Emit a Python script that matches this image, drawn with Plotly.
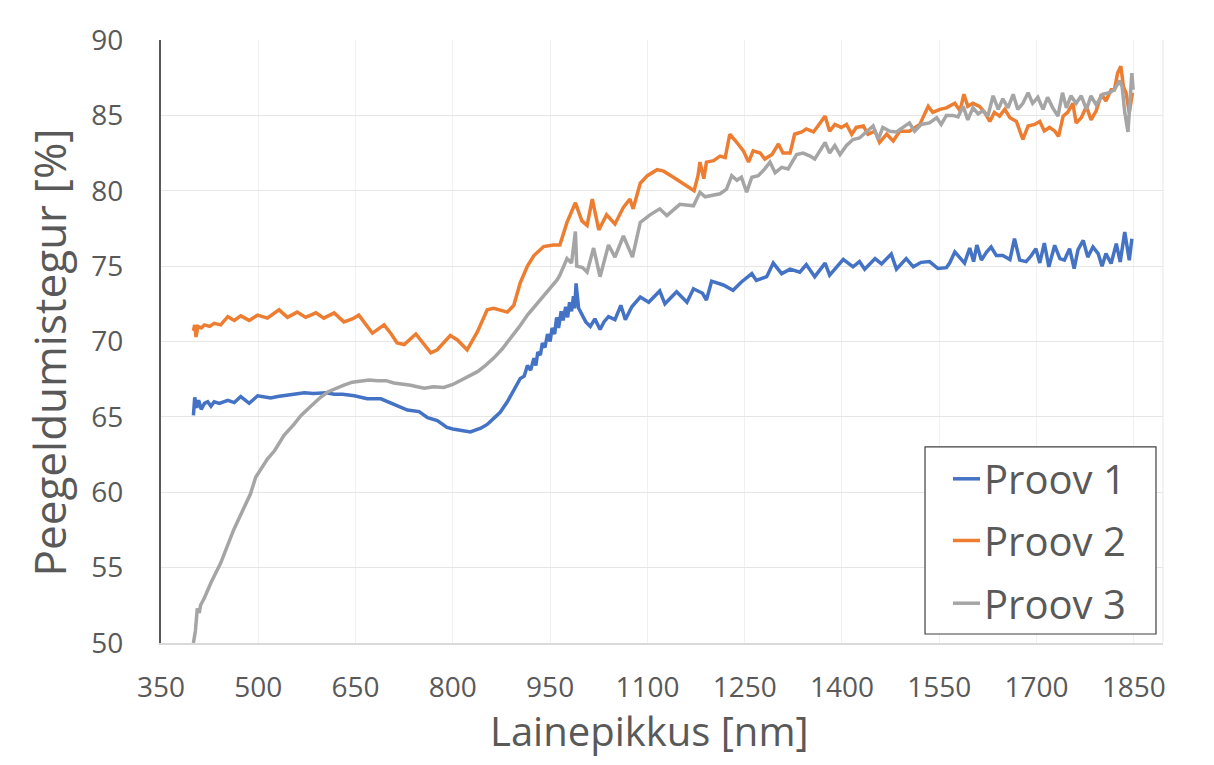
import plotly.graph_objects as go

# ---- Data ----
p1_x = [400, 402, 405, 408, 412, 417, 422, 427, 432, 440, 453, 463, 473, 480, 486, 499, 510, 519, 530, 545,
        560, 571, 585, 596, 605, 617, 630, 648, 668, 689, 700, 709, 720, 730, 748, 755, 761, 776, 791, 800,
        812, 827, 843, 853, 863, 873, 884, 894, 904, 910, 915, 920, 925, 928, 931, 935, 938, 942, 946, 950,
        953, 957, 960, 963, 967, 970, 974, 977, 980, 983, 986, 988,
        990, 994, 999, 1005, 1012, 1019, 1027, 1033, 1040, 1050, 1059, 1066, 1076, 1089, 1102, 1119, 1127, 1145, 1161,
        1171, 1185, 1191, 1199, 1217, 1232, 1245, 1261, 1268, 1284, 1294, 1307, 1320, 1335, 1345, 1358, 1374, 1381, 1402, 1417,
        1427, 1435, 1451, 1461, 1476, 1484, 1499, 1510, 1522, 1535, 1543, 1548, 1561, 1566, 1574, 1582, 1589, 1597, 1603, 1608,
        1615, 1623, 1630, 1638, 1648, 1659, 1666, 1674, 1684, 1692, 1699, 1705, 1712, 1719, 1728, 1736, 1743, 1751, 1758, 1764,
        1772, 1779, 1787, 1795, 1801, 1807, 1815, 1823, 1829, 1836, 1843, 1847]
p1_y = [65.1, 66.3, 65.6, 66.1, 65.5, 65.9, 66.0, 65.7, 66.0, 65.9, 66.1, 65.95, 66.35, 66.1, 65.9, 66.4, 66.3, 66.25, 66.35, 66.45,
        66.5, 66.6, 66.55, 66.55, 66.6, 66.5, 66.5, 66.4, 66.2, 66.2, 66.0, 65.8, 65.6, 65.45, 65.35, 65.1, 64.95, 64.75, 64.3, 64.2,
        64.1, 64.0, 64.25, 64.5, 64.9, 65.3, 66.0, 66.8, 67.55, 67.7, 68.4, 68.1, 68.9, 68.4, 69.3, 69.1, 69.9, 69.6, 70.5, 70.0,
        70.9, 70.5, 71.6, 70.9, 72.0, 71.4, 72.3, 71.6, 72.6, 72.0, 73.0, 72.2,
        73.85, 72.2, 71.75, 71.3, 71.0, 71.5, 70.8, 71.3, 71.65, 71.45, 72.4, 71.45, 72.3, 72.95, 72.6, 73.35, 72.5, 73.3, 72.6,
        73.5, 73.2, 72.75, 74.0, 73.75, 73.4, 73.95, 74.5, 74.05, 74.3, 75.2, 74.5, 74.8, 74.6, 75.1, 74.3, 75.2, 74.4, 75.45, 74.95,
        75.3, 74.8, 75.5, 75.15, 75.8, 74.8, 75.5, 74.95, 75.25, 75.3, 75.06, 74.84, 74.9, 75.2, 75.94, 75.5, 75.2, 76.2, 75.3, 76.4,
        75.4, 75.94, 76.27, 75.7, 75.7, 75.43, 76.82, 75.4, 75.3, 75.7, 76.16, 75.21, 76.53, 74.95, 76.38, 75.5, 75.4, 76.16, 74.84, 76.1,
        76.71, 75.6, 76.27, 75.83, 74.99, 75.83, 75.17, 76.49, 75.28, 77.26, 75.39, 76.82]

p2_x = [400, 402, 404, 407, 412, 417, 425, 432, 442, 453, 463, 473, 486, 499, 514, 532, 545, 560, 573, 589,
        601, 617, 632, 645, 655, 665, 676, 694, 705, 714, 725, 743, 755, 766, 776, 796, 807, 822, 838, 853,
        863, 884, 894, 904, 915, 925, 940, 955, 965, 976, 989, 999, 1007, 1015, 1025, 1037, 1050, 1063, 1073, 1078,
        1089, 1100, 1115, 1125, 1140, 1155, 1165, 1172, 1178, 1181, 1187, 1191, 1202, 1212, 1220, 1227, 1238, 1248, 1256, 1263,
        1274, 1281, 1292, 1302, 1309, 1320, 1327, 1338, 1345, 1356, 1363, 1374, 1381, 1389, 1399, 1407, 1415, 1422, 1433, 1440,
        1451, 1458, 1469, 1479, 1489, 1504, 1520, 1533, 1540, 1551, 1561, 1574, 1582, 1588, 1594, 1602, 1612, 1620, 1628, 1635,
        1643, 1651, 1659, 1669, 1679, 1687, 1697, 1705, 1712, 1720, 1728, 1734, 1741, 1748, 1756, 1761, 1769, 1777, 1784, 1792,
        1800, 1807, 1815, 1820, 1825, 1830, 1834, 1838, 1843, 1848]
p2_y = [70.7, 71.1, 70.3, 71.0, 70.9, 71.1, 71.0, 71.2, 71.1, 71.65, 71.4, 71.7, 71.4, 71.75, 71.55, 72.1, 71.6, 71.95, 71.6, 71.9,
        71.55, 71.9, 71.3, 71.5, 71.75, 71.2, 70.55, 71.1, 70.5, 69.9, 69.8, 70.5, 69.8, 69.25, 69.45, 70.4, 70.1, 69.45, 70.65, 72.1,
        72.2, 71.95, 72.4, 73.9, 75.0, 75.7, 76.3, 76.4, 76.4, 77.9, 79.2, 78.0, 77.7, 79.45, 77.4, 78.4, 77.8, 78.9, 79.45, 78.8,
        80.5, 81.0, 81.4, 81.3, 80.9, 80.5, 80.2, 80.0, 81.0, 81.9, 80.8, 81.9, 82.0, 82.3, 82.2, 83.75, 83.2, 82.65, 81.9, 82.65,
        82.5, 82.1, 82.4, 83.1, 82.5, 82.5, 83.75, 83.9, 84.1, 83.9, 84.3, 84.95, 83.95, 84.4, 84.2, 84.4, 83.75, 84.2, 84.3, 83.75,
        83.95, 83.2, 83.75, 83.3, 83.95, 83.95, 84.4, 85.6, 85.2, 85.4, 85.5, 85.8, 85.3, 86.4, 85.6, 85.8, 85.6, 85.2, 84.6, 85.2,
        84.95, 85.4, 84.85, 84.6, 83.4, 84.3, 84.4, 84.6, 83.97, 84.2, 83.97, 83.6, 84.95, 85.2, 85.8, 84.5, 84.85, 85.6, 84.7, 85.3,
        86.4, 85.95, 86.7, 86.7, 87.8, 88.26, 86.9, 86.5, 85.2, 86.5]

p3_x = [400, 403, 406, 409, 411, 417, 427, 442, 462, 475, 488, 496, 514, 525, 540, 555, 566, 581, 596, 607,
        620, 632, 645, 658, 671, 684, 697, 709, 722, 735, 745, 756, 770, 786, 800, 812, 825, 838, 850, 863,
        876, 889, 902, 915, 928, 940, 952, 961, 965, 976, 983, 989, 991, 1000, 1007, 1017, 1027, 1040, 1050, 1063,
        1077, 1089, 1104, 1119, 1130, 1150, 1171, 1181, 1189, 1202, 1212, 1222, 1230, 1238, 1245, 1253, 1261, 1271, 1281, 1289,
        1297, 1307, 1317, 1330, 1340, 1351, 1358, 1374, 1381, 1389, 1397, 1407, 1417, 1427, 1438, 1448, 1456, 1463, 1474, 1484,
        1494, 1504, 1512, 1522, 1535, 1546, 1553, 1561, 1571, 1579, 1587, 1594, 1602, 1610, 1617, 1625, 1633, 1641, 1648, 1656,
        1664, 1671, 1679, 1687, 1694, 1702, 1710, 1717, 1725, 1733, 1740, 1746, 1753, 1761, 1769, 1777, 1784, 1792, 1802, 1812,
        1820, 1828, 1832, 1836, 1841, 1844, 1847, 1849]
p3_y = [50.0, 50.8, 52.3, 52.0, 52.5, 53.0, 54.0, 55.3, 57.5, 58.7, 59.9, 61.0, 62.2, 62.75, 63.8, 64.5, 65.1, 65.7, 66.3, 66.65,
        66.9, 67.1, 67.3, 67.4, 67.45, 67.4, 67.4, 67.25, 67.2, 67.1, 67.0, 66.9, 67.0, 66.95, 67.15, 67.4, 67.7, 68.0, 68.4, 68.9,
        69.5, 70.2, 70.95, 71.75, 72.4, 73.05, 73.6, 74.1, 74.4, 75.5, 75.2, 77.3, 75.0, 74.9, 74.6, 76.2, 74.3, 76.4, 75.6, 77.0,
        75.6, 77.9, 78.4, 78.8, 78.35, 79.1, 79.0, 79.9, 79.6, 79.7, 79.8, 80.1, 81.0, 80.7, 80.9, 79.9, 80.9, 81.0, 81.45, 81.9,
        81.2, 81.55, 81.45, 82.4, 82.5, 82.3, 82.1, 83.2, 82.5, 83.0, 82.4, 83.0, 83.4, 83.5, 83.9, 84.3, 83.4, 84.2, 83.95, 83.9,
        84.2, 84.5, 83.95, 84.4, 84.5, 84.85, 84.4, 85.0, 85.0, 84.9, 85.6, 84.7, 85.5, 85.1, 85.3, 84.95, 86.3, 85.4, 86.1, 85.5,
        86.4, 85.4, 85.8, 86.5, 85.8, 86.2, 85.4, 86.2, 85.5, 84.95, 86.5, 85.5, 86.3, 85.8, 86.3, 85.4, 86.3, 85.7, 86.4, 86.5,
        86.7, 87.3, 86.9, 85.2, 83.9, 85.8, 87.8, 86.7]

series_names = ["Proov 1", "Proov 2", "Proov 3"]
series_colors = ["#4472C4", "#ED7D31", "#A5A5A5"]
x_ticks = [350, 500, 650, 800, 950, 1100, 1250, 1400, 1550, 1700, 1850]
y_ticks = [50, 55, 60, 65, 70, 75, 80, 85, 90]
x_title = "Lainepikkus [nm]"
y_title = "Peegeldumistegur [%]"

FONT = "Open Sans"
TXT = "#595959"

fig = go.Figure()
for name, xs, ys, col in zip(series_names, [p1_x, p2_x, p3_x], [p1_y, p2_y, p3_y], series_colors):
    fig.add_trace(go.Scatter(x=xs, y=ys, mode="lines", name=name,
                             line=dict(color=col, width=3.5), showlegend=False))

fig.update_layout(
    width=1214, height=765,
    margin=dict(l=153, r=59, t=29, b=130),
    paper_bgcolor="white", plot_bgcolor="white",
    font=dict(family=FONT, color=TXT),
    showlegend=False,
)
fig.update_xaxes(range=[350, 1895], tickvals=x_ticks, ticktext=[str(v) for v in x_ticks],
                 showgrid=True, gridcolor="#f0f0f0", gridwidth=1,
                 showline=True, linecolor="#d9d9d9", linewidth=1.5,
                 ticks="", ticklabelstandoff=19,
                 tickfont=dict(size=28, color=TXT, family=FONT),
                 zeroline=False)
fig.update_yaxes(range=[50, 90], tickvals=y_ticks, ticktext=[str(v) for v in y_ticks],
                 showgrid=True, gridcolor="#e6e6e6", gridwidth=1,
                 showline=True, linecolor="#595959", linewidth=2,
                 ticks="", ticklabelstandoff=30,
                 tickfont=dict(size=28, color=TXT, family=FONT),
                 zeroline=False)

# axis titles
fig.add_annotation(text=x_title, xref="paper", yref="paper", x=0.488, y=-0.1452,
                   xanchor="center", yanchor="middle", showarrow=False,
                   font=dict(size=40, color=TXT, family=FONT))
fig.add_annotation(text=y_title, xref="paper", yref="paper", x=-0.1118, y=0.4818,
                   xanchor="center", yanchor="middle", showarrow=False, textangle=-90,
                   font=dict(size=44, color=TXT, family=FONT))

# right edge of the plot area (light border)
fig.add_shape(type="line", xref="paper", yref="paper", x0=1, x1=1, y0=0, y1=1,
              line=dict(color="#e6e6e6", width=1))

# legend box (drawn in paper coordinates)
fig.add_shape(type="rect", xref="paper", yref="paper", x0=0.7625, x1=0.993, y0=0.0149, y1=0.3251,
              line=dict(color="#404040", width=1.2), fillcolor="white", layer="above")
row_y = [0.2723, 0.1700, 0.0660]
for name, col, ry in zip(series_names, series_colors, row_y):
    fig.add_shape(type="line", xref="paper", yref="paper", x0=0.7904, x1=0.8174, y0=ry, y1=ry,
                  line=dict(color=col, width=3.5), layer="above")
    fig.add_annotation(text=name, xref="paper", yref="paper", x=0.8194, y=ry,
                       xanchor="left", yanchor="middle", showarrow=False,
                       font=dict(size=40, color=TXT, family=FONT))

fig.write_html("out.html")
